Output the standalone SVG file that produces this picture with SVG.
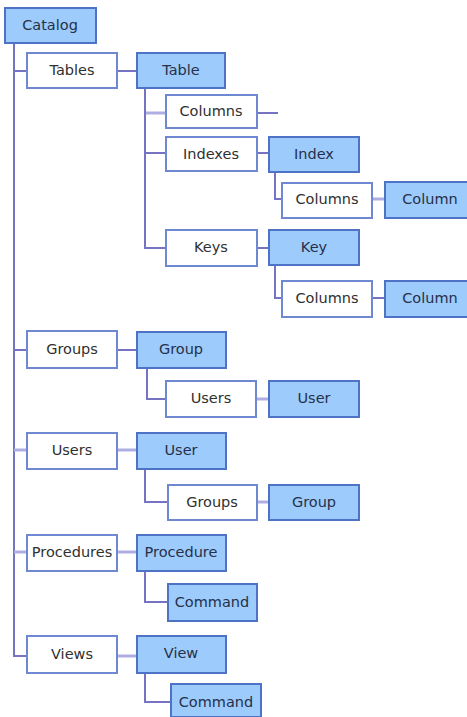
<svg xmlns="http://www.w3.org/2000/svg" width="467" height="717" viewBox="0 0 467 717">
  <style>
    .coll { fill: #ffffff; stroke: #6f88d2; stroke-width: 2; }
    .item { fill: #9dcbfb; stroke: #4d72c6; stroke-width: 2; }
    .lbl { font-family: "DejaVu Sans", Verdana, sans-serif; font-size: 14.5px; fill: #303030; text-anchor: middle; }
    .lbl.b { fill: #26304a; }
    .wire { fill: none; stroke: #7674c2; stroke-width: 2; }
    .wire.soft { stroke: #aeaee2; stroke-width: 3; }
  </style>

  <!-- connectors -->
  <g id="connectors">
    <path class="wire" d="M14,43 V656 H27"/>
    <path class="wire" d="M14,71 H27"/>
    <path class="wire" d="M14,350 H27"/>
    <path class="wire soft" d="M14,450 H27"/>
    <path class="wire soft" d="M14,552 H27"/>
    <path class="wire" d="M117,71 H137"/>
    <path class="wire" d="M145,88 V248 H166"/>
    <path class="wire soft" d="M146,113 H166"/>
    <path class="wire" d="M145,153 H166"/>
    <path class="wire" d="M257,113 H278"/>
    <path class="wire" d="M257,153 H269"/>
    <path class="wire" d="M275,172 V199 H282"/>
    <path class="wire soft" d="M372,199 H385"/>
    <path class="wire" d="M257,248 H269"/>
    <path class="wire" d="M275,265 V298 H282"/>
    <path class="wire" d="M372,298 H385"/>
    <path class="wire" d="M117,350 H137"/>
    <path class="wire" d="M147,368 V399 H166"/>
    <path class="wire soft" d="M256,399 H269"/>
    <path class="wire soft" d="M117,450 H137"/>
    <path class="wire" d="M145,469 V502 H168"/>
    <path class="wire soft" d="M257,502 H269"/>
    <path class="wire soft" d="M117,552 H137"/>
    <path class="wire" d="M145,571 V602 H168"/>
    <path class="wire soft" d="M117,656 H137"/>
    <path class="wire" d="M145,673 V702 H171"/>
  </g>

  <g id="catalog"><rect class="item" x="5" y="8" width="91" height="35"/><text class="lbl b" x="50" y="30">Catalog</text></g>

  <g id="tables"><rect class="coll" x="27" y="53" width="90" height="35"/><text class="lbl" x="72" y="75">Tables</text></g>
  <g id="table"><rect class="item" x="137" y="53" width="88" height="35"/><text class="lbl b" x="181" y="75">Table</text></g>
  <g id="table-columns"><rect class="coll" x="166" y="95" width="91" height="33"/><text class="lbl" x="211" y="116">Columns</text></g>
  <g id="indexes"><rect class="coll" x="166" y="137" width="91" height="34"/><text class="lbl" x="211" y="159">Indexes</text></g>
  <g id="index"><rect class="item" x="269" y="137" width="90" height="35"/><text class="lbl b" x="314" y="159">Index</text></g>
  <g id="index-columns"><rect class="coll" x="282" y="183" width="90" height="35"/><text class="lbl" x="327" y="204">Columns</text></g>
  <g id="index-column"><rect class="item" x="385" y="182" width="90" height="36"/><text class="lbl b" x="430" y="204">Column</text></g>
  <g id="keys"><rect class="coll" x="166" y="230" width="91" height="36"/><text class="lbl" x="211" y="252">Keys</text></g>
  <g id="key"><rect class="item" x="269" y="230" width="90" height="35"/><text class="lbl b" x="314" y="252">Key</text></g>
  <g id="key-columns"><rect class="coll" x="282" y="281" width="90" height="36"/><text class="lbl" x="327" y="303">Columns</text></g>
  <g id="key-column"><rect class="item" x="385" y="281" width="90" height="36"/><text class="lbl b" x="430" y="303">Column</text></g>

  <g id="groups"><rect class="coll" x="27" y="331" width="90" height="37"/><text class="lbl" x="72" y="354">Groups</text></g>
  <g id="group"><rect class="item" x="137" y="332" width="89" height="36"/><text class="lbl b" x="181" y="354">Group</text></g>
  <g id="group-users"><rect class="coll" x="166" y="381" width="90" height="36"/><text class="lbl" x="211" y="403">Users</text></g>
  <g id="group-user"><rect class="item" x="269" y="381" width="90" height="36"/><text class="lbl b" x="314" y="403">User</text></g>

  <g id="users"><rect class="coll" x="27" y="433" width="90" height="36"/><text class="lbl" x="72" y="455">Users</text></g>
  <g id="user"><rect class="item" x="137" y="433" width="89" height="36"/><text class="lbl b" x="181" y="455">User</text></g>
  <g id="user-groups"><rect class="coll" x="168" y="485" width="89" height="35"/><text class="lbl" x="212" y="507">Groups</text></g>
  <g id="user-group"><rect class="item" x="269" y="485" width="90" height="35"/><text class="lbl b" x="314" y="507">Group</text></g>

  <g id="procedures"><rect class="coll" x="27" y="535" width="90" height="36"/><text class="lbl" x="72" y="557">Procedures</text></g>
  <g id="procedure"><rect class="item" x="137" y="535" width="89" height="36"/><text class="lbl b" x="181" y="557">Procedure</text></g>
  <g id="procedure-command"><rect class="item" x="168" y="584" width="89" height="37"/><text class="lbl b" x="212" y="607">Command</text></g>

  <g id="views"><rect class="coll" x="27" y="636" width="90" height="37"/><text class="lbl" x="72" y="659">Views</text></g>
  <g id="view"><rect class="item" x="137" y="636" width="89" height="37"/><text class="lbl b" x="181" y="658">View</text></g>
  <g id="view-command"><rect class="item" x="171" y="684" width="90" height="33"/><text class="lbl b" x="216" y="707">Command</text></g>
</svg>
